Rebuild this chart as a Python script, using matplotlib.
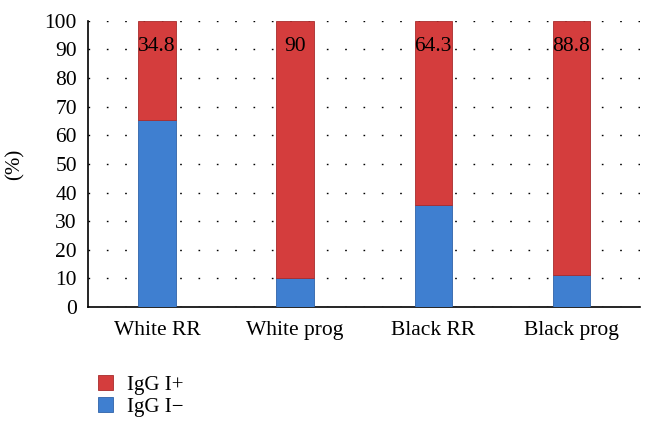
import matplotlib.pyplot as plt
import numpy as np

categories = ["White RR", "White prog", "Black RR", "Black prog"]
igg_neg = [65.2, 10, 35.7, 11.2]
igg_pos = [34.8, 90, 64.3, 88.8]
pos_labels = ["34.8", "90", "64.3", "88.8"]

plt.rcParams['font.family'] = ['Liberation Serif', 'DejaVu Serif']

fig = plt.figure(figsize=(6.52, 4.43), dpi=100)
ax = fig.add_axes([0.135, 0.307, 0.847, 0.646])

x = np.arange(len(categories))
blue = '#3F7FD0'
red = '#D43D3D'
b1 = ax.bar(x, igg_neg, width=0.27, color=blue, edgecolor='#2F63A8', linewidth=0.6, zorder=3)
b2 = ax.bar(x, igg_pos, width=0.27, bottom=igg_neg, color=red, edgecolor='#A82C2C', linewidth=0.6, zorder=3)

for xi, lab in zip(x, pos_labels):
    ax.text(xi, 91, lab, ha='center', va='center', fontsize=15.5, zorder=4)

ax.set_xlim(-0.5, 3.5)
ax.set_ylim(0, 100)
ax.set_yticks(range(0, 101, 10))
ax.set_xticks(x)
ax.set_xticklabels(categories, fontsize=15.5)
ax.tick_params(axis='y', labelsize=15.5, length=0, pad=8)
ax.tick_params(axis='x', length=0, pad=10)
ax.yaxis.grid(True, linestyle=(0, (1.2, 12)), color='black', linewidth=1.0, zorder=0)
ax.spines['top'].set_visible(False)
ax.spines['right'].set_visible(False)
ax.spines['left'].set_linewidth(1.2)
ax.spines['bottom'].set_linewidth(1.2)
ax.set_ylabel('(%)', fontsize=15, labelpad=14)

fig.legend([b2, b1], ["IgG I+", "IgG I\u2212"], loc='upper left',
           bbox_to_anchor=(0.138, 0.172), frameon=False, fontsize=15,
           handlelength=0.7, handleheight=0.7, labelspacing=0.12, handletextpad=0.7,
           borderaxespad=0)

fig.savefig('out.png', dpi=100)
